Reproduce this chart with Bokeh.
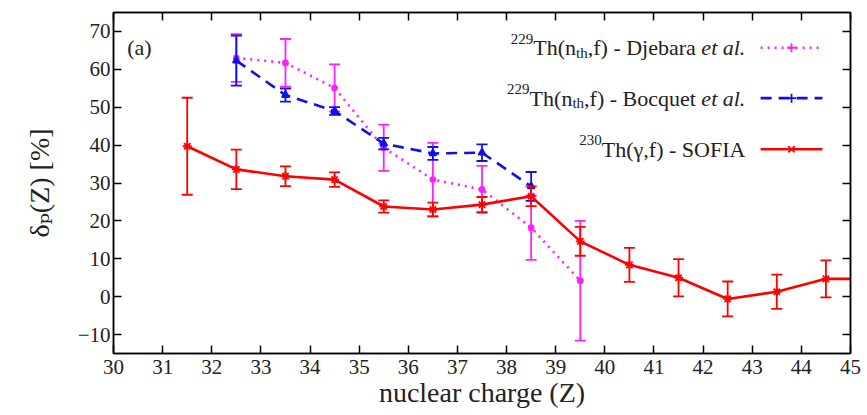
from bokeh.plotting import figure
from bokeh.models import Range1d, FixedTicker, LinearAxis, Label, CustomLabelingPolicy
from bokeh.embed import file_html
from bokeh.resources import INLINE

# ---- data ----
z_sofia = [31.5, 32.5, 33.5, 34.5, 35.5, 36.5, 37.5, 38.5, 39.5, 40.5, 41.5, 42.5, 43.5, 44.5, 45.5]
d_sofia = [39.7, 33.6, 31.8, 30.9, 23.8, 23.0, 24.3, 26.5, 14.6, 8.4, 5.0, -0.6, 1.3, 4.7, 4.7]
e_sofia = [12.8, 5.2, 2.6, 1.9, 1.6, 1.8, 2.0, 2.6, 3.8, 4.5, 4.9, 4.6, 4.5, 4.9, 4.9]

z_bocq = [32.5, 33.5, 34.5, 35.5, 36.5, 37.5, 38.5]
d_bocq = [62.3, 53.2, 49.0, 40.4, 37.8, 38.0, 29.1]
e_bocq = [6.6, 1.7, 1.0, 1.5, 1.7, 2.2, 3.8]

z_djeb = [32.5, 33.5, 34.5, 35.5, 36.5, 37.5, 38.5, 39.5]
d_djeb = [63.0, 61.7, 55.1, 39.3, 30.9, 28.3, 18.2, 4.2]
e_djeb = [6.3, 6.3, 6.2, 6.1, 9.7, 6.2, 8.5, 15.8]

x_ticks = list(range(30, 46))
y_ticks = [-10, 0, 10, 20, 30, 40, 50, 60, 70]

FONT = "'Liberation Serif', 'Times New Roman', 'DejaVu Serif', serif"
RED = "#ff0000"
BLUE = "#1010e8"
MAG = "#ff20ff"

p = figure(width=867, height=415, output_backend="svg", toolbar_location=None,
           x_range=Range1d(30, 45), y_range=Range1d(-15, 75),
           min_border_left=113, min_border_right=17, min_border_top=12, min_border_bottom=62)
p.background_fill_color = "white"
p.border_fill_color = "white"
p.grid.visible = False
p.outline_line_color = "black"
p.outline_line_width = 1.5

def style_axis(ax, ticks, show_labels=True):
    ax.ticker = FixedTicker(ticks=ticks)
    ax.major_tick_in = 8
    ax.major_tick_out = 0
    ax.minor_tick_line_color = None
    ax.axis_line_color = "black"
    ax.axis_line_width = 1.5
    ax.major_tick_line_width = 1.5
    ax.major_label_text_font = FONT
    ax.major_label_text_color = "#222222"
    ax.major_label_text_font_size = "21px"
    if not show_labels:
        ax.major_label_policy = CustomLabelingPolicy(code="for (const i of indices) indices.unset(i)")
        ax.major_label_text_font_size = "1px"
        ax.major_label_standoff = 0

style_axis(p.xaxis[0], x_ticks)
style_axis(p.yaxis[0], y_ticks)
p.xaxis[0].axis_label = "nuclear charge (Z)"
p.yaxis[0].axis_label = "δₚ(Z) [%]"
for ax in (p.xaxis[0], p.yaxis[0]):
    ax.axis_label_text_font = FONT
    ax.axis_label_text_font_size = "28px"
    ax.axis_label_text_font_style = "normal"
    ax.axis_label_text_color = "#222222"
p.xaxis[0].major_label_standoff = 6
p.xaxis[0].axis_label_standoff = 0
p.yaxis[0].major_label_standoff = 3
p.yaxis[0].axis_label_standoff = 20

top_ax = LinearAxis()
style_axis(top_ax, x_ticks, show_labels=False)
p.add_layout(top_ax, "above")
right_ax = LinearAxis()
style_axis(right_ax, y_ticks, show_labels=False)
p.add_layout(right_ax, "right")

def series(z, d, e, color, dash, width, marker, msize):
    lo = [a - b for a, b in zip(d, e)]
    hi = [a + b for a, b in zip(d, e)]
    p.segment(x0=z, y0=lo, x1=z, y1=hi, line_color=color, line_width=1.8)
    p.scatter(x=z, y=lo, marker="dash", size=11, line_color=color, line_width=1.8)
    p.scatter(x=z, y=hi, marker="dash", size=11, line_color=color, line_width=1.8)
    p.line(x=z, y=d, line_color=color, line_width=width, line_dash=dash)
    p.scatter(x=z, y=d, marker=marker, size=msize, line_color=color, fill_color=color, line_width=1.8)

series(z_djeb, d_djeb, e_djeb, MAG, "2 5", 2.6, "circle", 5)
series(z_bocq, d_bocq, e_bocq, BLUE, "11 7", 2.6, "triangle", 7)
series(z_sofia, d_sofia, e_sofia, RED, "solid", 2.6, "asterisk", 9)

# ---- panel label ----
p.add_layout(Label(x=30.28, y=65.7, text="(a)", text_font=FONT, text_font_size="22px",
                   text_color="#222222", text_baseline="middle", text_align="left"))

# ---- legend (manual, for super/subscripts and italics) ----
W = {' ': .25, '(': .333, ')': .333, ',': .25, '-': .333, '.': .25, 'A': .722, 'B': .667,
     'C': .667, 'D': .722, 'F': .556, 'I': .333, 'O': .722, 'S': .556, 'T': .611, 'a': .444,
     'b': .5, 'c': .444, 'e': .444, 'f': .333, 'h': .5, 'j': .278, 'l': .278, 'n': .5,
     'o': .5, 'q': .5, 'r': .333, 't': .278, 'u': .5, 'γ': .45, 'k': .5}
WI = {'e': .444, 't': .278, ' ': .25, 'a': .5, 'l': .278, '.': .25}

def width(s, size, italic=False):
    tab = WI if italic else W
    return sum(tab.get(c, .5) for c in s) * size

MAIN, SMALL = 22, 15
legend_rows = [
    ([("229", "sup"), ("Th(n", "n"), ("th", "sub"), (",f) - Djebara", "n"), (" ", "gap"), ("et al.", "i")], MAG, "2 5", "cross"),
    ([("229", "sup"), ("Th(n", "n"), ("th", "sub"), (",f) - Bocquet", "n"), (" ", "gap"), ("et al.", "i")], BLUE, "11 7", "cross"),
    ([("230", "sup"), ("Th(γ,f) - SOFIA", "n")], RED, "solid", "x"),
]
row_y = [65.7, 52.4, 38.9]
x_text_end = 42.86
x_line0, x_line1 = 43.17, 44.43

for (pieces, color, dash, mk), yy in zip(legend_rows, row_y):
    off = 0.0
    for txt, kind in reversed(pieces):
        if kind == "gap":
            off += width(txt, MAIN)
            continue
        size = SMALL if kind in ("sup", "sub") else MAIN
        yoff = {"sup": 9, "sub": -5}.get(kind, 0)
        p.add_layout(Label(x=x_text_end, y=yy, x_offset=-off, y_offset=yoff, text=txt,
                           text_font=FONT, text_font_size=f"{size}px",
                           text_font_style="italic" if kind == "i" else "normal",
                           text_color="#222222", text_align="right", text_baseline="middle"))
        off += width(txt, size, italic=(kind == "i"))
    p.line(x=[x_line0, x_line1], y=[yy, yy], line_color=color, line_width=2.6, line_dash=dash)
    p.scatter(x=[(x_line0 + x_line1) / 2], y=[yy], marker=mk, size=9, line_color=color, line_width=1.8)

open("out.html", "w").write(file_html(p, INLINE))
